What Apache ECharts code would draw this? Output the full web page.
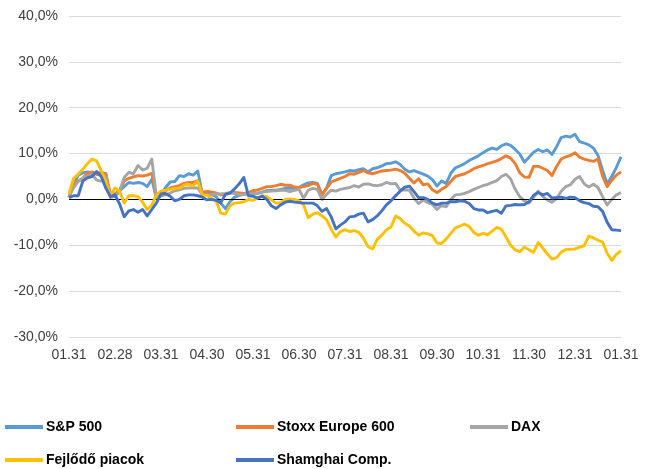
<!DOCTYPE html>
<html>
<head>
<meta charset="utf-8">
<script src="https://cdn.jsdelivr.net/npm/echarts@6/dist/echarts.min.js"></script>
<style>html,body{margin:0;padding:0;background:#fff}#c{width:649px;height:469px}</style>
</head>
<body>
<div id="c"></div>
<script>
// Month-end tick labels (one every 10 samples)
var tickLabels = ['01.31','02.28','03.31','04.30','05.31','06.30','07.31','08.31','09.30','10.31','11.30','12.31','01.31'];
var samplesPerMonth = 10;

var seriesNames = ['S&P 500', 'Stoxx Europe 600', 'DAX', 'Fejlődő piacok', 'Shamghai Comp.'];

var sp500 = [
 0.4, 3.2, 5.3, 5.8, 6.0, 5.8, 5.6, 5.9, 5.6, 0.8,
 0.6, 1.9, 2.8, 3.7, 3.5, 3.7, 3.5, 2.8, 4.4, 0.2,
 1.0, 2.6, 3.8, 3.9, 5.2, 5.0, 5.6, 5.3, 6.2, 1.0,
 1.5, 1.1, 0.6, -0.8, -2.0, -0.5, 0.5, 0.9, 1.1, 1.3,
 1.5, 1.3, 1.6, 1.9, 2.0, 2.0, 2.2, 2.4, 2.5, 2.4,
 2.6, 3.2, 3.6, 3.7, 3.5, 1.0, 2.5, 5.2, 5.6, 5.8,
 6.0, 6.3, 6.2, 6.5, 6.7, 6.0, 6.7, 6.9, 7.3, 7.8,
 7.9, 8.2, 7.6, 6.6, 6.0, 6.3, 5.9, 5.5, 5.1, 4.3,
 2.9, 4.0, 3.5, 5.7, 6.9, 7.3, 7.8, 8.5, 9.0, 9.5,
 10.2, 10.8, 11.2, 10.9, 11.7, 12.1, 11.8, 10.9, 9.9, 8.1,
 9.2, 10.3, 10.9, 10.4, 10.8, 9.8, 11.5, 13.5, 13.8, 13.6,
 14.2, 12.6, 12.3, 11.9, 11.2, 9.6, 6.3, 3.4, 5.0, 7.0, 9.3
];

var stoxx600 = [
 0.5, 3.5, 4.0, 4.6, 5.7, 6.0, 5.5, 5.3, 5.6, 1.1,
 1.2, 2.0, 4.0, 4.6, 4.9, 5.2, 5.1, 5.3, 5.7, 0.5,
 0.8, 1.9, 2.5, 2.8, 3.0, 3.5, 3.7, 3.7, 4.1, 1.5,
 1.8, 1.6, 1.4, 1.0, 1.1, 1.4, 1.5, 1.4, 1.3, 1.5,
 1.9, 2.1, 2.4, 2.8, 2.8, 3.0, 3.3, 3.1, 3.1, 2.7,
 2.6, 2.8, 3.0, 3.5, 3.3, 1.0, 2.4, 3.8, 4.2, 4.6,
 5.0, 5.6, 5.5, 5.9, 6.3, 5.8, 5.6, 5.9, 6.2, 6.3,
 6.4, 6.6, 6.3, 5.7, 4.6, 3.6, 4.5, 3.2, 3.4, 2.1,
 1.5, 2.2, 2.8, 3.9, 5.0, 5.3, 5.6, 6.1, 6.7, 7.1,
 7.4, 7.8, 8.1, 8.4, 8.9, 9.5, 9.0, 7.8, 5.8, 4.9,
 4.8, 7.2, 7.2, 6.8, 6.3, 5.2, 7.2, 8.8, 9.3, 9.6,
 10.2, 9.2, 8.8, 8.5, 8.3, 8.8, 5.0, 2.8, 4.2, 5.3, 6.0
];

var dax = [
 0.5, 2.6, 3.9, 4.6, 5.1, 5.5, 4.2, 4.0, 4.9, 0.4,
 0.8, 1.8, 4.8, 5.9, 5.6, 7.4, 6.4, 6.8, 8.8, 0.6,
 0.8, 1.0, 1.4, 1.9, 2.1, 2.4, 2.5, 2.5, 2.5, 1.0,
 1.0, 1.0, 1.2, 1.2, 1.3, 1.5, 1.3, 1.0, 1.1, 1.2,
 1.3, 1.4, 1.6, 1.7, 1.8, 1.9, 2.0, 2.0, 1.7, 2.0,
 2.2, 0.3, 2.0, 2.4, 2.2, 0.0, 1.1, 2.0, 1.8, 2.2,
 2.4, 2.6, 3.0, 2.7, 3.3, 3.4, 3.1, 3.0, 3.2, 3.7,
 3.4, 3.5, 2.0, 2.1, 2.0, 0.3, -0.9, -0.1, -0.7, -1.1,
 -2.2, -1.3, -1.6, 0.0, 1.0, 1.1, 1.3, 1.7, 2.2, 2.6,
 3.0, 3.3, 3.7, 4.1, 5.0, 5.5, 4.5, 2.2, 0.6, -0.3,
 -0.8, 0.5, 1.8, 0.6, -0.1, -0.6, 0.2, 1.8, 2.8, 3.2,
 4.4, 5.0, 3.4, 2.7, 3.3, 2.6, 0.6, -1.2, 0.0, 1.0, 1.5
];

var emerging = [
 1.3, 4.6, 5.5, 6.6, 7.8, 8.8, 8.4, 6.3, 4.0, 0.8,
 2.5, 1.8, -0.8, 0.8, 0.8, 0.6, -0.6, -2.2, -1.2, 1.0,
 1.8, 2.0, 2.2, 2.4, 2.5, 3.1, 3.3, 3.0, 4.0, 1.0,
 0.9, 0.2, -0.4, -3.0, -3.2, -1.4, -0.8, -0.7, -0.5, 0.0,
 -0.2, 0.3, 0.8, 0.6, -0.1, -0.8, -0.7, 0.0, 0.1, 0.0,
 -0.3, -1.2, -4.0, -3.2, -2.9, -3.6, -4.4, -6.5, -8.2, -7.0,
 -6.6, -7.0, -6.8, -7.2, -8.4, -10.3, -10.8, -8.7, -7.8, -6.6,
 -6.0, -3.6, -4.2, -5.2, -5.8, -6.9, -7.8, -7.3, -7.5, -7.9,
 -9.5, -9.6, -8.6, -7.4, -6.2, -5.8, -5.4, -5.9, -7.2, -7.8,
 -7.4, -7.7, -6.9, -6.1, -6.5, -8.2, -10.0, -11.0, -11.4, -10.4,
 -11.0, -11.5, -9.4, -10.6, -11.9, -13.0, -12.7, -11.5, -10.9, -10.9,
 -10.8, -10.4, -10.1, -8.0, -8.4, -8.9, -9.3, -11.8, -13.3, -12.0, -11.2
];

var shanghai = [
 0.4, 0.8, 0.8, 4.0, 4.7, 5.0, 6.1, 5.0, 2.5, 0.6,
 1.0, -1.0, -3.8, -2.5, -2.2, -2.8, -2.2, -3.6, -2.2, -0.8,
 1.2, 1.3, 0.7, -0.3, 0.0, 0.8, 1.0, 1.0, 0.8, 0.5,
 -0.1, 0.0, -0.2, -0.7, 1.1, 1.4, 2.3, 3.4, 4.8, 0.8,
 0.7, 0.3, 0.7, 0.0, -1.4, -2.0, -1.2, -0.6, -0.4, -0.6,
 -0.7, -0.8, -0.8, -0.8, -1.4, -2.6, -2.0, -3.8, -6.4, -5.6,
 -4.9, -3.8, -3.7, -3.2, -3.0, -4.9, -4.4, -3.6, -2.5, -1.2,
 -0.3, 0.8, 1.8, 2.7, 2.9, 1.7, 0.4, 0.4, 0.0, -0.8,
 -1.2, -0.8, -0.8, -0.5, -0.5, -0.3, -0.4, -0.9, -2.0, -2.3,
 -2.3, -2.9, -2.6, -2.4, -3.0, -1.4, -1.3, -1.1, -1.2, -1.1,
 -0.5, 0.9, 1.5, 1.0, 1.3, 0.3, 0.4, 0.5, 0.2, 0.5,
 0.4, -0.3, -0.7, -0.9, -1.5, -1.6, -2.6, -5.0, -6.6, -6.7, -6.8
];

var seriesValues = [sp500, stoxx600, dax, emerging, shanghai];
var colors = ['#5B9BD5', '#ED7D31', '#A5A5A5', '#FFC000', '#4472C4'];

function toPairs(arr) {
  return arr.map(function (v, i) { return [i, v]; });
}

var series = seriesNames.map(function (name, i) {
  var s = {
    name: name,
    type: 'line',
    data: toPairs(seriesValues[i]),
    showSymbol: false,
    symbol: 'none',
    smooth: false,
    lineStyle: { width: 2.9, color: colors[i], join: 'round' },
    itemStyle: { color: colors[i] },
    z: 2 + i
  };
  if (i === 0) {
    s.markLine = {
      silent: true,
      symbol: ['none', 'none'],
      label: { show: false },
      lineStyle: { color: '#000000', width: 1, type: 'solid' },
      data: [{ yAxis: 0 }],
      animation: false
    };
  }
  return s;
});

var legendPos = [
  { left: 5, top: 420 },
  { left: 236, top: 420 },
  { left: 470, top: 420 },
  { left: 5, top: 453 },
  { left: 236, top: 453 }
];
var legends = seriesNames.map(function (name, i) {
  return {
    left: legendPos[i].left,
    top: legendPos[i].top,
    data: [{ name: name, icon: 'rect' }],
    itemWidth: 38,
    itemHeight: 4,
    padding: 0,
    selectedMode: false,
    textStyle: { fontFamily: 'Liberation Sans, Arial, sans-serif', fontSize: 14, fontWeight: 'bold', color: '#000', padding: [0, 0, 0, -2] }
  };
});

var lastIndex = (tickLabels.length - 1) * samplesPerMonth;

var chart = echarts.init(document.getElementById('c'), null, { renderer: 'canvas' });
chart.setOption({
  animation: false,
  backgroundColor: '#ffffff',
  color: colors,
  grid: { left: 69, right: 28, top: 16, bottom: 132, containLabel: false },
  legend: legends,
  xAxis: {
    type: 'value',
    min: 0,
    max: lastIndex,
    interval: samplesPerMonth,
    axisLine: { show: false },
    axisTick: { show: false },
    splitLine: { show: false },
    axisLabel: {
      margin: 11,
      fontFamily: 'Liberation Sans, Arial, sans-serif',
      fontSize: 14,
      color: '#404040',
      formatter: function (v) { return tickLabels[Math.round(v / samplesPerMonth)] || ''; }
    }
  },
  yAxis: {
    type: 'value',
    min: -30,
    max: 40,
    interval: 10,
    axisLine: { show: false },
    axisTick: { show: false },
    splitLine: { lineStyle: { color: '#D9D9D9', width: 1 } },
    axisLabel: {
      margin: 11,
      fontFamily: 'Liberation Sans, Arial, sans-serif',
      fontSize: 14,
      color: '#404040',
      formatter: function (v) { return v.toFixed(1).replace('.', ',') + '%'; }
    }
  },
  series: series
});
</script>
</body>
</html>
